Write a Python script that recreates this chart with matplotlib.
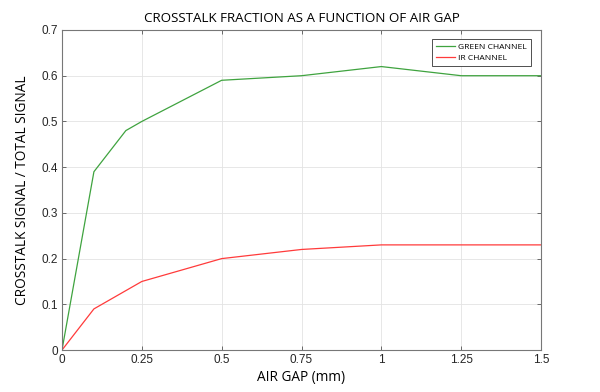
import matplotlib
matplotlib.use('Agg')
import matplotlib.pyplot as plt

# air gap (mm) and crosstalk fraction
gap_green = [0, 0.1, 0.2, 0.25, 0.5, 0.75, 1.0, 1.25, 1.5]
green = [0, 0.39, 0.48, 0.50, 0.59, 0.60, 0.62, 0.60, 0.60]
gap_ir = [0, 0.1, 0.25, 0.5, 0.75, 1.0, 1.25, 1.5]
ir = [0, 0.09, 0.15, 0.20, 0.22, 0.23, 0.23, 0.23]

xticks = [0, 0.25, 0.5, 0.75, 1, 1.25, 1.5]
xticklabels = ['0', '0.25', '0.5', '0.75', '1', '1.25', '1.5']
yticks = [0, 0.1, 0.2, 0.3, 0.4, 0.5, 0.6, 0.7]
yticklabels = ['0', '0.1', '0.2', '0.3', '0.4', '0.5', '0.6', '0.7']

fig = plt.figure(figsize=(6, 3.92), dpi=100)
ax = fig.add_axes([0.1033, 0.107, 0.7984, 0.8165])

ax.plot(gap_green, green, color='#3fa33f', lw=0.9, label='GREEN CHANNEL')
ax.plot(gap_ir, ir, color='#ff3b3b', lw=0.9, label='IR CHANNEL')

ax.set_xlim(0, 1.5)
ax.set_ylim(0, 0.7)
ax.set_xticks(xticks)
ax.set_xticklabels(xticklabels, fontsize=8.5, family='Liberation Sans', color='#262626')
ax.set_yticks(yticks)
ax.set_yticklabels(yticklabels, fontsize=8.5, family='Liberation Sans', color='#262626')
ax.tick_params(direction='in', length=3, width=0.6, color='#555555', top=True, right=True, pad=3)
ax.grid(True, color='#e3e3e3', lw=0.6)
ax.set_axisbelow(True)
for s in ax.spines.values():
    s.set_color('#777777')
    s.set_linewidth(0.8)

ax.set_title('CROSSTALK FRACTION AS A FUNCTION OF AIR GAP', fontsize=9.6, family='Open Sans', pad=6)
ax.set_xlabel('AIR GAP (mm)', fontsize=9.8, family='Open Sans', labelpad=3)
ax.set_ylabel('CROSSTALK SIGNAL / TOTAL SIGNAL', fontsize=9.8, family='Open Sans', labelpad=8)

leg = ax.legend(loc='upper right', prop={'family': 'Open Sans', 'size': 6.1},
                fancybox=False, framealpha=1, edgecolor='#333333',
                handlelength=2.2, handletextpad=0.45, borderpad=0.45, labelspacing=0.45,
                borderaxespad=0, bbox_to_anchor=(0.979, 0.972))
leg.get_frame().set_linewidth(0.6)

fig.savefig('out.png', dpi=100)
